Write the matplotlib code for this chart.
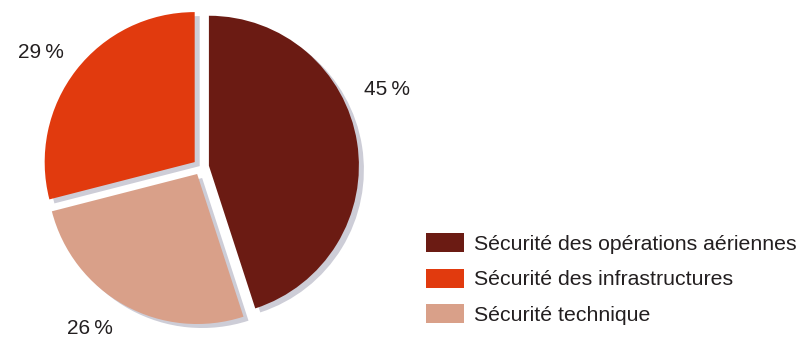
import matplotlib.pyplot as plt
from matplotlib.patches import Patch

# parts of the budget, drawn clockwise from 12 o'clock
labels = ["Sécurité des opérations aériennes", "Sécurité technique", "Sécurité des infrastructures"]
shares = [45, 26, 29]
colors = ["#6b1b13", "#d9a089", "#e13a0e"]

# legend order differs from the drawing order
legend_order = [0, 2, 1]

plt.rcParams["font.family"] = ["Liberation Sans", "DejaVu Sans"]

W, H = 812, 337

fig = plt.figure(figsize=(W / 100, H / 100), dpi=100)
ax = fig.add_axes([0, 0, 1, 1])

cx, cy = 201, H - 167
r = 150
gap = [8, 8, 8]

# grey drop shadow behind the pie
ax.pie(shares, colors=["#cdcdd7"] * 3, startangle=90, counterclock=False,
       radius=r, center=(cx + 5, cy - 4), explode=gap,
       wedgeprops=dict(linewidth=0), frame=True)

wedges, texts = ax.pie(shares, colors=colors, startangle=90, counterclock=False,
                       radius=r, center=(cx, cy), explode=gap,
                       labels=[f"{v}\u2009%" for v in shares], labeldistance=1.2,
                       wedgeprops=dict(linewidth=0), frame=True,
                       textprops=dict(fontsize=15, color="#231f20"))

label_pos = [(387, H - 90), (90, H - 329), (41, H - 52)]
for t, p in zip(texts, label_pos):
    t.set_position(p)
    t.set_ha("center")
    t.set_va("center")

ax.set_xlim(0, W)
ax.set_ylim(0, H)
ax.set_aspect("equal")
ax.axis("off")

handles = [Patch(facecolor=colors[i], linewidth=0) for i in legend_order]
fig.legend(handles, [labels[i] for i in legend_order],
           loc="upper left", bbox_to_anchor=(426 / W, 1 - 233 / H),
           frameon=False, fontsize=15.3, borderpad=0, borderaxespad=0,
           handlelength=1.8, handleheight=1.0, handletextpad=0.47,
           labelspacing=0.7, labelcolor="#231f20")

fig.savefig("out.png", dpi=100)
